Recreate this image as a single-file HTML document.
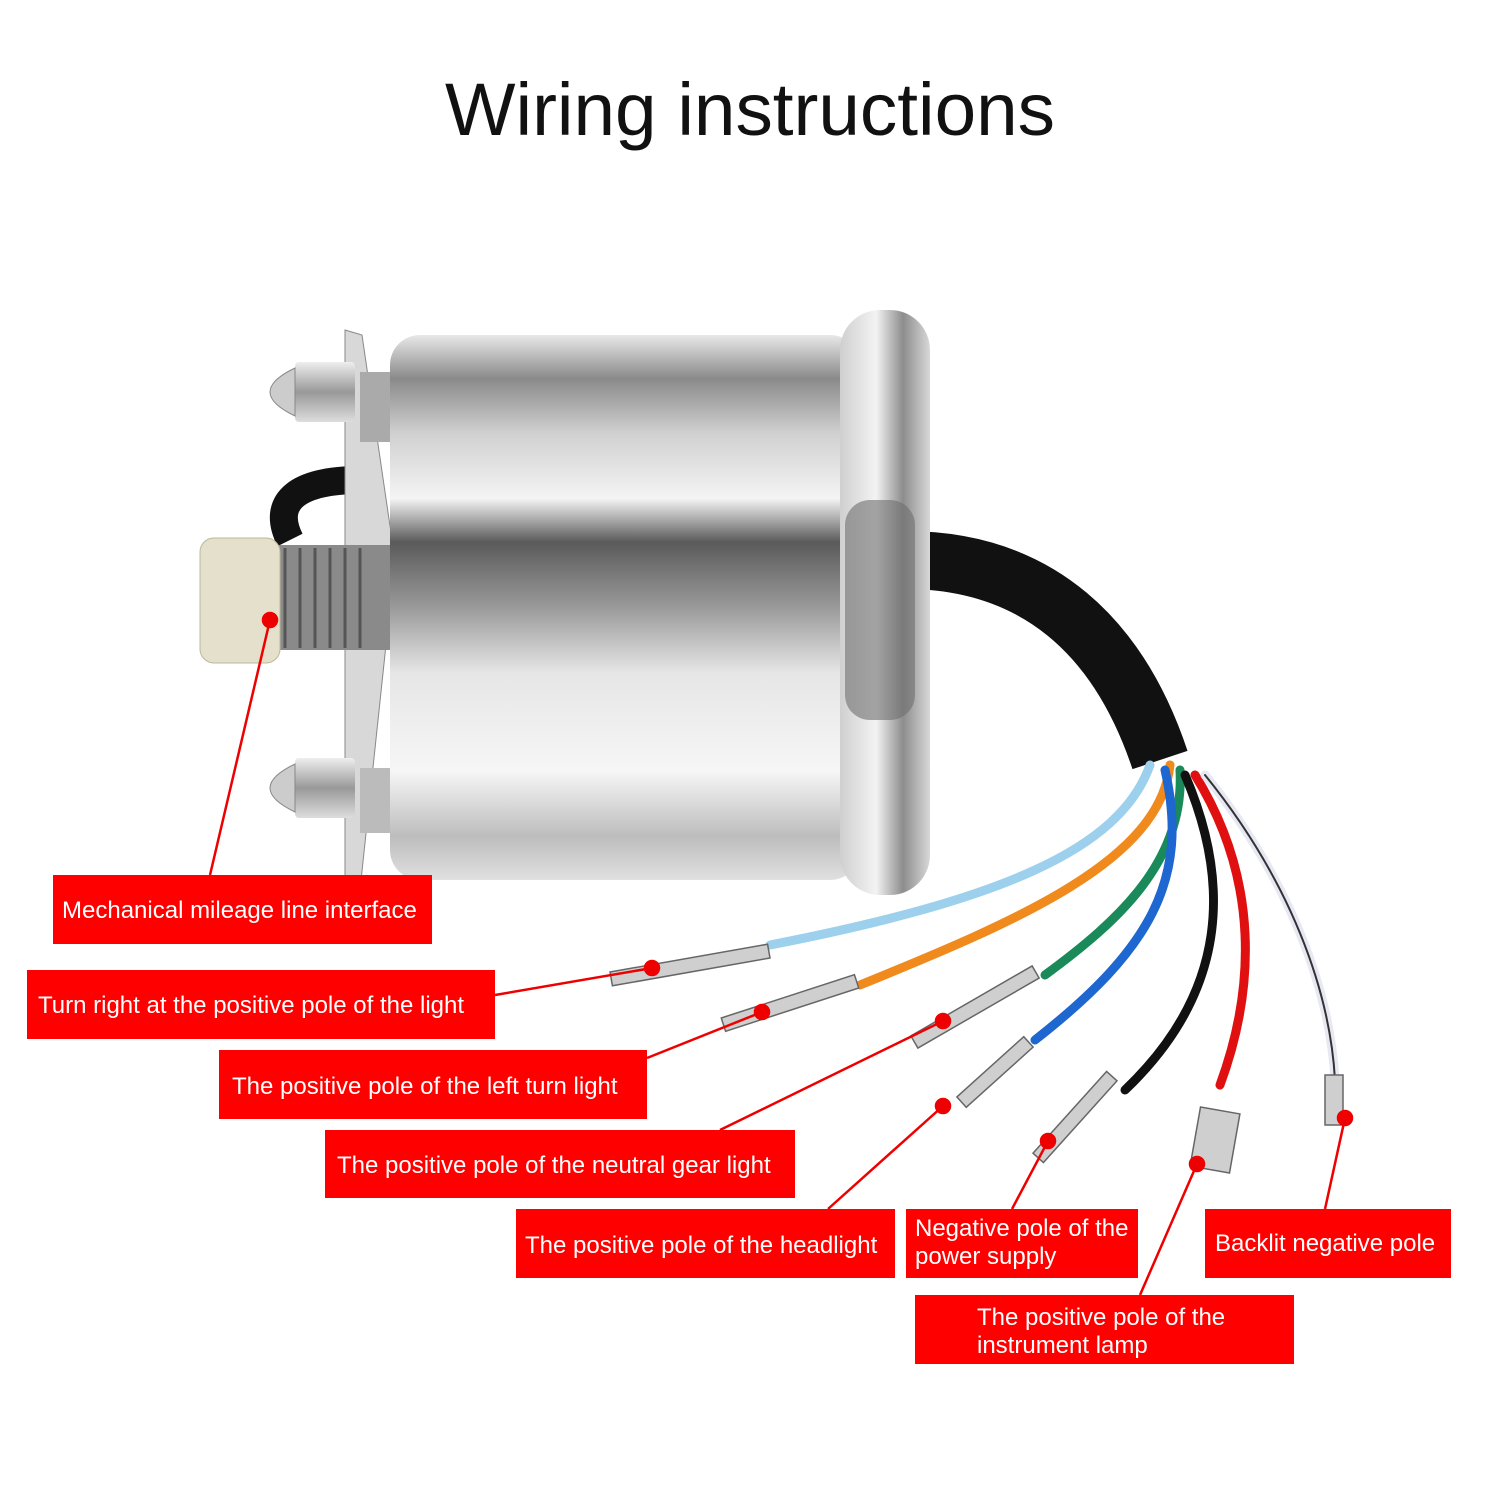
<!DOCTYPE html>
<html><head><meta charset="utf-8"><style>
html,body{margin:0;padding:0;background:#fff;width:1500px;height:1500px;overflow:hidden}
svg{display:block}
text{font-family:"Liberation Sans",sans-serif}
</style></head><body>
<svg width="1500" height="1500" viewBox="0 0 1500 1500" xmlns="http://www.w3.org/2000/svg">
<defs>
<linearGradient id="chrome" x1="0" y1="0" x2="0" y2="1">
<stop offset="0" stop-color="#e8e8e8"/><stop offset="0.08" stop-color="#8a8a8a"/><stop offset="0.18" stop-color="#d0d0d0"/>
<stop offset="0.3" stop-color="#f4f4f4"/><stop offset="0.38" stop-color="#5a5a5a"/><stop offset="0.5" stop-color="#9a9a9a"/>
<stop offset="0.62" stop-color="#e6e6e6"/><stop offset="0.8" stop-color="#f6f6f6"/><stop offset="0.92" stop-color="#bdbdbd"/><stop offset="1" stop-color="#e0e0e0"/>
</linearGradient>
<linearGradient id="rim" x1="0" y1="0" x2="1" y2="0">
<stop offset="0" stop-color="#cfcfcf"/><stop offset="0.4" stop-color="#f3f3f3"/><stop offset="0.7" stop-color="#8d8d8d"/><stop offset="1" stop-color="#d8d8d8"/>
</linearGradient>
<linearGradient id="nut" x1="0" y1="0" x2="0" y2="1">
<stop offset="0" stop-color="#eee"/><stop offset="0.5" stop-color="#999"/><stop offset="1" stop-color="#ddd"/>
</linearGradient>
</defs>
<text x="750" y="135" text-anchor="middle" font-size="74" fill="#111" textLength="610" lengthAdjust="spacingAndGlyphs">Wiring instructions</text>

<path d="M905 560 C1040 560 1120 640 1160 760" stroke="#111" stroke-width="58" fill="none"/>
<path d="M290 540 C270 500 300 480 360 480" stroke="#111" stroke-width="28" fill="none"/>
<g fill="none" stroke-width="9" stroke-linecap="round">
<path d="M1150 765 C1120 850 1000 900 770 945" stroke="#9cd0ec"/>
<path d="M1170 765 C1160 860 1020 920 860 985" stroke="#f08a1c"/>
<path d="M1180 770 C1185 860 1120 920 1045 975" stroke="#1a8a5a"/>
<path d="M1165 770 C1190 880 1150 950 1035 1040" stroke="#1e66d0"/>
<path d="M1185 775 C1230 880 1230 990 1125 1090" stroke="#111"/>
<path d="M1195 775 C1260 880 1255 990 1220 1085" stroke="#e01010"/>
<path d="M1205 775 C1290 880 1330 990 1335 1080" stroke="#e8e8f4"/>
<path d="M1205 775 C1290 880 1330 990 1335 1080" stroke="#333" stroke-width="2"/>
</g>
<g fill="#cfcfcf" stroke="#666" stroke-width="1.5">
<rect x="610" y="958" width="160" height="14" transform="rotate(-10 690 965)"/>
<rect x="720" y="996" width="140" height="14" transform="rotate(-18 790 1003)"/>
<rect x="905" y="1000" width="140" height="14" transform="rotate(-30 975 1007)"/>
<rect x="950" y="1065" width="90" height="14" transform="rotate(-42 995 1072)"/>
<rect x="1020" y="1110" width="110" height="14" transform="rotate(-48 1075 1117)"/>
<rect x="1195" y="1110" width="40" height="60" transform="rotate(10 1215 1140)"/>
<rect x="1325" y="1075" width="18" height="50"/>
</g>
<path d="M345 330 L362 335 L395 560 L360 890 L345 885 Z" fill="#d8d8d8" stroke="#888"/>
<rect x="295" y="362" width="60" height="60" fill="url(#nut)" rx="4"/>
<path d="M295 368 Q245 392 295 416 Z" fill="#ccc" stroke="#888"/>
<rect x="360" y="372" width="40" height="70" fill="#aaa"/>
<rect x="295" y="758" width="60" height="60" fill="url(#nut)" rx="4"/>
<path d="M295 764 Q245 788 295 812 Z" fill="#ccc" stroke="#888"/>
<rect x="360" y="768" width="40" height="65" fill="#bbb"/>
<rect x="270" y="545" width="120" height="105" fill="#8a8a8a"/>
<g stroke="#555" stroke-width="3">
<line x1="285" y1="548" x2="285" y2="648"/><line x1="300" y1="548" x2="300" y2="648"/><line x1="315" y1="548" x2="315" y2="648"/><line x1="330" y1="548" x2="330" y2="648"/><line x1="345" y1="548" x2="345" y2="648"/><line x1="360" y1="548" x2="360" y2="648"/>
</g>
<rect x="200" y="538" width="80" height="125" rx="14" fill="#e4e0cc" stroke="#bdb89c"/>
<rect x="390" y="335" width="470" height="545" rx="30" fill="url(#chrome)"/>
<rect x="840" y="310" width="90" height="585" rx="40" fill="url(#rim)"/>
<rect x="845" y="500" width="70" height="220" rx="25" fill="#6e6e6e" opacity="0.6"/>

<g stroke="#e00" stroke-width="2.5" fill="#e00">
<line x1="270" y1="620" x2="210" y2="875"/><circle cx="270" cy="620" r="7"/>
<line x1="652" y1="968" x2="495" y2="995"/><circle cx="652" cy="968" r="7"/>
<line x1="762" y1="1012" x2="647" y2="1058"/><circle cx="762" cy="1012" r="7"/>
<line x1="943" y1="1021" x2="720" y2="1130"/><circle cx="943" cy="1021" r="7"/>
<line x1="943" y1="1106" x2="828" y2="1209"/><circle cx="943" cy="1106" r="7"/>
<line x1="1048" y1="1141" x2="1012" y2="1209"/><circle cx="1048" cy="1141" r="7"/>
<line x1="1197" y1="1164" x2="1140" y2="1295"/><circle cx="1197" cy="1164" r="7"/>
<line x1="1345" y1="1118" x2="1325" y2="1209"/><circle cx="1345" cy="1118" r="7"/>
</g>
<g fill="#f00">
<rect x="53" y="875" width="379" height="69"/>
<rect x="27" y="970" width="468" height="69"/>
<rect x="219" y="1050" width="428" height="69"/>
<rect x="325" y="1130" width="470" height="68"/>
<rect x="516" y="1209" width="379" height="69"/>
<rect x="906" y="1209" width="232" height="69"/>
<rect x="1205" y="1209" width="246" height="69"/>
<rect x="915" y="1295" width="379" height="69"/>
</g>
<g fill="#fff" font-size="24">
<text x="62" y="918">Mechanical mileage line interface</text>
<text x="38" y="1013">Turn right at the positive pole of the light</text>
<text x="232" y="1094">The positive pole of the left turn light</text>
<text x="337" y="1173">The positive pole of the neutral gear light</text>
<text x="525" y="1253">The positive pole of the headlight</text>
<text x="915" y="1236">Negative pole of the</text>
<text x="915" y="1264">power supply</text>
<text x="1215" y="1251">Backlit negative pole</text>
<text x="977" y="1325">The positive pole of the</text>
<text x="977" y="1353">instrument lamp</text>
</g>
</svg>
</body></html>
